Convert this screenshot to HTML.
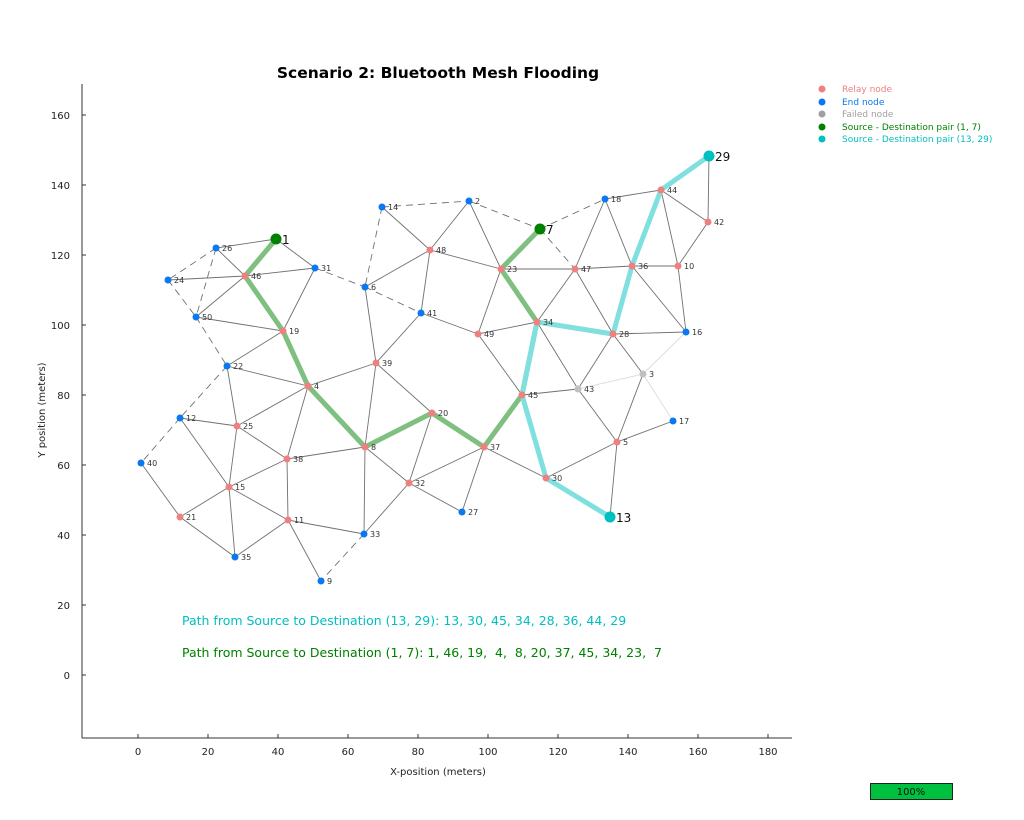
<!DOCTYPE html>
<html><head><meta charset="utf-8"><style>
body{margin:0;background:#fff}
svg{display:block;font-family:"DejaVu Sans","Liberation Sans",sans-serif}
.s{stroke:#707070;stroke-width:0.9}
.d{stroke:#707070;stroke-width:0.9;stroke-dasharray:7,5}
.f{stroke:#dcdcdc;stroke-width:0.9}
.g{stroke:#7fbf7f;stroke-width:5;stroke-linecap:round}
.c{stroke:#80dfdf;stroke-width:5;stroke-linecap:round}
.r{fill:#f08080}.b{fill:#0a78f0}.x{fill:#c0c0c0}
.l{font-size:8px;fill:#333}
.t{font-size:10px;fill:#222}
</style></head><body>
<svg width="1024" height="820" viewBox="0 0 1024 820">
<text x="438" y="78" text-anchor="middle" font-size="15.5" font-weight="bold">Scenario 2: Bluetooth Mesh Flooding</text>
<line x1="82" y1="84" x2="82" y2="738" stroke="#333"/>
<line x1="82" y1="738" x2="792" y2="738" stroke="#333"/>
<g class="t" text-anchor="end">
<text x="70" y="119">160</text><text x="70" y="189">140</text><text x="70" y="259">120</text><text x="70" y="329">100</text><text x="70" y="399">80</text><text x="70" y="469">60</text><text x="70" y="539">40</text><text x="70" y="609">20</text><text x="70" y="679">0</text>
</g>
<g stroke="#333"><line x1="82" y1="115" x2="86" y2="115"/><line x1="82" y1="185" x2="86" y2="185"/><line x1="82" y1="255" x2="86" y2="255"/><line x1="82" y1="325" x2="86" y2="325"/><line x1="82" y1="395" x2="86" y2="395"/><line x1="82" y1="465" x2="86" y2="465"/><line x1="82" y1="535" x2="86" y2="535"/><line x1="82" y1="605" x2="86" y2="605"/><line x1="82" y1="675" x2="86" y2="675"/>
<line x1="138" y1="738" x2="138" y2="734"/><line x1="208" y1="738" x2="208" y2="734"/><line x1="278" y1="738" x2="278" y2="734"/><line x1="348" y1="738" x2="348" y2="734"/><line x1="418" y1="738" x2="418" y2="734"/><line x1="488" y1="738" x2="488" y2="734"/><line x1="558" y1="738" x2="558" y2="734"/><line x1="628" y1="738" x2="628" y2="734"/><line x1="698" y1="738" x2="698" y2="734"/><line x1="768" y1="738" x2="768" y2="734"/></g>
<g class="t" text-anchor="middle">
<text x="138" y="755">0</text><text x="208" y="755">20</text><text x="278" y="755">40</text><text x="348" y="755">60</text><text x="418" y="755">80</text><text x="488" y="755">100</text><text x="558" y="755">120</text><text x="628" y="755">140</text><text x="698" y="755">160</text><text x="768" y="755">180</text>
<text x="438" y="775">X-position (meters)</text>
<text transform="translate(45,410) rotate(-90)">Y position (meters)</text>
</g>
<g>
<line class="s" x1="276" y1="239" x2="216" y2="248"/><line class="s" x1="276" y1="239" x2="315" y2="268"/>
<line class="s" x1="216" y1="248" x2="245" y2="276"/><line class="d" x1="216" y1="248" x2="168" y2="280"/><line class="d" x1="216" y1="248" x2="196" y2="317"/>
<line class="s" x1="168" y1="280" x2="245" y2="276"/><line class="d" x1="168" y1="280" x2="196" y2="317"/><line class="d" x1="196" y1="317" x2="227" y2="366"/>
<line class="s" x1="245" y1="276" x2="315" y2="268"/><line class="s" x1="245" y1="276" x2="196" y2="317"/><line class="s" x1="196" y1="317" x2="283" y2="331"/>
<line class="s" x1="315" y1="268" x2="283" y2="331"/><line class="d" x1="315" y1="268" x2="365" y2="287"/>
<line class="s" x1="283" y1="331" x2="227" y2="366"/><line class="s" x1="227" y1="366" x2="308" y2="386"/><line class="s" x1="227" y1="366" x2="237" y2="426"/><line class="d" x1="227" y1="366" x2="180" y2="418"/><line class="d" x1="180" y1="418" x2="141" y2="463"/>
<line class="d" x1="382" y1="207" x2="469" y2="201"/><line class="d" x1="382" y1="207" x2="365" y2="287"/><line class="s" x1="382" y1="207" x2="430" y2="250"/>
<line class="s" x1="469" y1="201" x2="430" y2="250"/><line class="s" x1="469" y1="201" x2="501" y2="269"/><line class="d" x1="469" y1="201" x2="540" y2="229"/>
<line class="d" x1="540" y1="229" x2="605" y2="199"/><line class="d" x1="540" y1="229" x2="575" y2="269"/>
<line class="s" x1="430" y1="250" x2="365" y2="287"/><line class="s" x1="430" y1="250" x2="421" y2="313"/><line class="s" x1="430" y1="250" x2="501" y2="269"/>
<line class="d" x1="365" y1="287" x2="421" y2="313"/><line class="s" x1="365" y1="287" x2="376" y2="363"/><line class="s" x1="421" y1="313" x2="376" y2="363"/><line class="s" x1="421" y1="313" x2="478" y2="334"/>
<line class="s" x1="478" y1="334" x2="501" y2="269"/><line class="s" x1="478" y1="334" x2="537" y2="322"/><line class="s" x1="478" y1="334" x2="522" y2="395"/>
<line class="s" x1="376" y1="363" x2="308" y2="386"/><line class="s" x1="376" y1="363" x2="365" y2="447"/><line class="s" x1="376" y1="363" x2="432" y2="413"/>
<line class="s" x1="501" y1="269" x2="575" y2="269"/><line class="s" x1="575" y1="269" x2="632" y2="266"/><line class="s" x1="575" y1="269" x2="537" y2="322"/><line class="s" x1="575" y1="269" x2="613" y2="334"/><line class="s" x1="575" y1="269" x2="605" y2="199"/>
<line class="s" x1="605" y1="199" x2="632" y2="266"/><line class="s" x1="605" y1="199" x2="661" y2="190"/>
<line class="s" x1="632" y1="266" x2="678" y2="266"/><line class="s" x1="632" y1="266" x2="686" y2="332"/><line class="s" x1="661" y1="190" x2="678" y2="266"/><line class="s" x1="661" y1="190" x2="708" y2="222"/>
<line class="s" x1="709" y1="156" x2="708" y2="222"/><line class="s" x1="708" y1="222" x2="678" y2="266"/><line class="s" x1="678" y1="266" x2="686" y2="332"/><line class="s" x1="613" y1="334" x2="686" y2="332"/>
<line class="f" x1="686" y1="332" x2="643" y2="374"/><line class="s" x1="613" y1="334" x2="643" y2="374"/><line class="s" x1="537" y1="322" x2="578" y2="389"/><line class="s" x1="613" y1="334" x2="578" y2="389"/>
<line class="s" x1="522" y1="395" x2="578" y2="389"/><line class="s" x1="578" y1="389" x2="617" y2="442"/><line class="f" x1="578" y1="389" x2="643" y2="374"/><line class="s" x1="643" y1="374" x2="617" y2="442"/><line class="f" x1="643" y1="374" x2="673" y2="421"/>
<line class="s" x1="617" y1="442" x2="673" y2="421"/><line class="s" x1="617" y1="442" x2="546" y2="478"/><line class="s" x1="617" y1="442" x2="610" y2="517"/>
<line class="s" x1="484" y1="447" x2="546" y2="478"/><line class="s" x1="484" y1="447" x2="409" y2="483"/><line class="s" x1="484" y1="447" x2="462" y2="512"/>
<line class="s" x1="432" y1="413" x2="409" y2="483"/><line class="s" x1="365" y1="447" x2="409" y2="483"/><line class="s" x1="409" y1="483" x2="462" y2="512"/><line class="s" x1="409" y1="483" x2="364" y2="534"/>
<line class="s" x1="365" y1="447" x2="364" y2="534"/><line class="s" x1="365" y1="447" x2="287" y2="459"/><line class="d" x1="364" y1="534" x2="321" y2="581"/><line class="s" x1="364" y1="534" x2="288" y2="520"/>
<line class="s" x1="288" y1="520" x2="321" y2="581"/><line class="s" x1="288" y1="520" x2="287" y2="459"/><line class="s" x1="288" y1="520" x2="229" y2="487"/><line class="s" x1="288" y1="520" x2="235" y2="557"/>
<line class="s" x1="287" y1="459" x2="308" y2="386"/><line class="s" x1="287" y1="459" x2="237" y2="426"/><line class="s" x1="287" y1="459" x2="229" y2="487"/>
<line class="s" x1="308" y1="386" x2="237" y2="426"/><line class="s" x1="237" y1="426" x2="229" y2="487"/><line class="s" x1="237" y1="426" x2="180" y2="418"/><line class="s" x1="180" y1="418" x2="229" y2="487"/>
<line class="s" x1="229" y1="487" x2="180" y2="517"/><line class="s" x1="229" y1="487" x2="235" y2="557"/><line class="s" x1="180" y1="517" x2="235" y2="557"/><line class="s" x1="141" y1="463" x2="180" y2="517"/>
</g>
<polyline class="g" fill="none" points="276,239 245,276 283,331 308,386 365,447 432,413 484,447 522,395 537,322 501,269 540,229"/>
<polyline class="c" fill="none" points="610,517 546,478 522,395 537,322 613,334 632,266 661,190 709,156"/>
<g>
<circle class="r" cx="245" cy="276" r="3.5"/><circle class="r" cx="283" cy="331" r="3.5"/><circle class="r" cx="308" cy="386" r="3.5"/><circle class="r" cx="365" cy="447" r="3.5"/><circle class="r" cx="432" cy="413" r="3.5"/><circle class="r" cx="484" cy="447" r="3.5"/><circle class="r" cx="522" cy="395" r="3.5"/><circle class="r" cx="537" cy="322" r="3.5"/><circle class="r" cx="501" cy="269" r="3.5"/><circle class="r" cx="546" cy="478" r="3.5"/><circle class="r" cx="613" cy="334" r="3.5"/><circle class="r" cx="632" cy="266" r="3.5"/><circle class="r" cx="661" cy="190" r="3.5"/>
<circle class="r" cx="617" cy="442" r="3.5"/><circle class="r" cx="678" cy="266" r="3.5"/><circle class="r" cx="288" cy="520" r="3.5"/><circle class="r" cx="229" cy="487" r="3.5"/><circle class="r" cx="180" cy="517" r="3.5"/><circle class="r" cx="237" cy="426" r="3.5"/><circle class="r" cx="409" cy="483" r="3.5"/><circle class="r" cx="287" cy="459" r="3.5"/><circle class="r" cx="376" cy="363" r="3.5"/><circle class="r" cx="708" cy="222" r="3.5"/><circle class="r" cx="575" cy="269" r="3.5"/><circle class="r" cx="430" cy="250" r="3.5"/><circle class="r" cx="478" cy="334" r="3.5"/>
<circle class="b" cx="469" cy="201" r="3.5"/><circle class="b" cx="365" cy="287" r="3.5"/><circle class="b" cx="321" cy="581" r="3.5"/><circle class="b" cx="180" cy="418" r="3.5"/><circle class="b" cx="382" cy="207" r="3.5"/><circle class="b" cx="686" cy="332" r="3.5"/><circle class="b" cx="673" cy="421" r="3.5"/><circle class="b" cx="605" cy="199" r="3.5"/><circle class="b" cx="227" cy="366" r="3.5"/><circle class="b" cx="168" cy="280" r="3.5"/><circle class="b" cx="216" cy="248" r="3.5"/><circle class="b" cx="462" cy="512" r="3.5"/><circle class="b" cx="315" cy="268" r="3.5"/><circle class="b" cx="364" cy="534" r="3.5"/><circle class="b" cx="235" cy="557" r="3.5"/><circle class="b" cx="141" cy="463" r="3.5"/><circle class="b" cx="421" cy="313" r="3.5"/><circle class="b" cx="196" cy="317" r="3.5"/>
<circle class="x" cx="643" cy="374" r="3.5"/><circle class="x" cx="578" cy="389" r="3.5"/>
<circle fill="#008000" cx="276" cy="239" r="5.5"/><circle fill="#008000" cx="540" cy="229" r="5.5"/><circle fill="#00bfbf" cx="610" cy="517" r="5.5"/><circle fill="#00bfbf" cx="709" cy="156" r="5.5"/>
</g>
<g class="l">
<text x="469" y="204" dx="6">2</text><text x="643" y="377" dx="6">3</text><text x="308" y="389" dx="6">4</text><text x="617" y="445" dx="6">5</text><text x="365" y="290" dx="6">6</text><text x="365" y="450" dx="6">8</text><text x="321" y="584" dx="6">9</text><text x="678" y="269" dx="6">10</text><text x="288" y="523" dx="6">11</text><text x="180" y="421" dx="6">12</text><text x="382" y="210" dx="6">14</text><text x="229" y="490" dx="6">15</text><text x="686" y="335" dx="6">16</text><text x="673" y="424" dx="6">17</text><text x="605" y="202" dx="6">18</text><text x="283" y="334" dx="6">19</text><text x="432" y="416" dx="6">20</text><text x="180" y="520" dx="6">21</text><text x="227" y="369" dx="6">22</text><text x="501" y="272" dx="6">23</text><text x="168" y="283" dx="6">24</text><text x="237" y="429" dx="6">25</text><text x="216" y="251" dx="6">26</text><text x="462" y="515" dx="6">27</text><text x="613" y="337" dx="6">28</text><text x="546" y="481" dx="6">30</text><text x="315" y="271" dx="6">31</text><text x="409" y="486" dx="6">32</text><text x="364" y="537" dx="6">33</text><text x="537" y="325" dx="6">34</text><text x="235" y="560" dx="6">35</text><text x="632" y="269" dx="6">36</text><text x="484" y="450" dx="6">37</text><text x="287" y="462" dx="6">38</text><text x="376" y="366" dx="6">39</text><text x="141" y="466" dx="6">40</text><text x="421" y="316" dx="6">41</text><text x="708" y="225" dx="6">42</text><text x="578" y="392" dx="6">43</text><text x="661" y="193" dx="6">44</text><text x="522" y="398" dx="6">45</text><text x="245" y="279" dx="6">46</text><text x="575" y="272" dx="6">47</text><text x="430" y="253" dx="6">48</text><text x="478" y="337" dx="6">49</text><text x="196" y="320" dx="6">50</text>
</g>
<g font-size="12" fill="#111"><text x="282" y="244">1</text><text x="546" y="234">7</text><text x="616" y="522">13</text><text x="715" y="161">29</text></g>
<text x="182" y="625" font-size="12.5" fill="#00bfbf">Path from Source to Destination (13, 29): 13, 30, 45, 34, 28, 36, 44, 29</text>
<text x="182" y="657" font-size="12.5" fill="#008000" xml:space="preserve">Path from Source to Destination (1, 7): 1, 46, 19,  4,  8, 20, 37, 45, 34, 23,  7</text>
<g font-size="9">
<circle cx="822" cy="89" r="3.5" fill="#f08080"/><text x="842" y="92" fill="#f08080">Relay node</text>
<circle cx="822" cy="102" r="3.5" fill="#0a78f0"/><text x="842" y="105" fill="#0a78f0">End node</text>
<circle cx="822" cy="114" r="3.5" fill="#a0a0a0"/><text x="842" y="117" fill="#a0a0a0">Failed node</text>
<circle cx="822" cy="127" r="3.5" fill="#008000"/><text x="842" y="130" fill="#008000">Source - Destination pair (1, 7)</text>
<circle cx="822" cy="139" r="3.5" fill="#00bfbf"/><text x="842" y="142" fill="#00bfbf">Source - Destination pair (13, 29)</text>
</g>
<rect x="870.5" y="783.5" width="82" height="16" fill="#00c040" stroke="#222"/>
<text x="911" y="795" font-size="10" text-anchor="middle" fill="#111">100%</text>
</svg>
</body></html>
